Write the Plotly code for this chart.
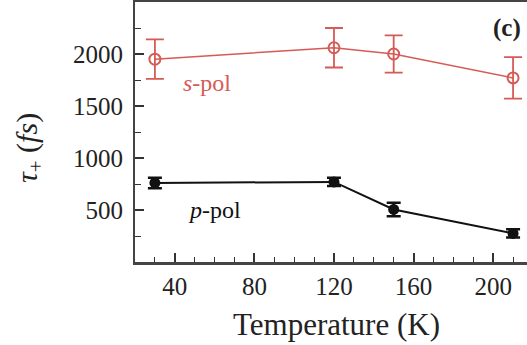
import plotly.graph_objects as go

# Temperature series (K)
temps = [30, 120, 150, 210]

# s-polarised decay time tau_+ (fs) and its error
s_tau = [1950, 2060, 2000, 1770]
s_err = [190, 190, 180, 200]

# p-polarised decay time tau_+ (fs) and its error
p_tau = [760, 770, 505, 275]
p_err = [50, 40, 65, 40]

x_ticks = [40, 80, 120, 160, 200]
y_ticks = [500, 1000, 1500, 2000]

RED = "#d65a55"
FONT = "Liberation Serif, Times New Roman, serif"

fig = go.Figure()

fig.add_trace(go.Scatter(
    x=temps, y=s_tau, mode="lines+markers",
    line=dict(color=RED, width=1.5),
    marker=dict(symbol="circle-open", size=11, color=RED, line=dict(width=2)),
    error_y=dict(type="data", array=s_err, visible=True, color=RED, thickness=1.8, width=9),
    showlegend=False,
))

fig.add_trace(go.Scatter(
    x=temps, y=p_tau, mode="lines+markers",
    line=dict(color="#111111", width=2),
    marker=dict(symbol="circle", size=11, color="#111111"),
    error_y=dict(type="data", array=p_err, visible=True, color="#111111", thickness=2.5, width=7),
    showlegend=False,
))

fig.update_layout(
    width=527, height=345,
    margin=dict(l=135, r=0, t=2, b=83),
    paper_bgcolor="white", plot_bgcolor="white",
    font=dict(family=FONT, size=25, color="#222222"),
    xaxis=dict(
        range=[20, 217], tickvals=x_ticks, ticks="inside", ticklen=9, tickwidth=1.5,
        tickcolor="#333333", showgrid=False, zeroline=False,
        showline=True, linecolor="#444444", linewidth=2.5, mirror=True,
        minor=dict(dtick=10, tick0=0, ticks="inside", ticklen=5, tickwidth=1.2, tickcolor="#333333"),
    ),
    yaxis=dict(
        range=[0, 2500], tickvals=y_ticks, ticks="inside", ticklen=9, tickwidth=1.5,
        tickcolor="#333333", showgrid=False, zeroline=False,
        showline=True, linecolor="#444444", linewidth=2, ticklabelstandoff=5,
        minor=dict(dtick=250, tick0=0, ticks="inside", ticklen=6, tickwidth=1.2, tickcolor="#333333"),
    ),
    annotations=[
        dict(text="Temperature (K)", xref="paper", yref="paper", x=0.515, y=-0.242,
             xanchor="center", yanchor="middle", showarrow=False,
             font=dict(family=FONT, size=31, color="#222222")),
        dict(text="<i>τ</i><sub>+</sub> (<i>fs</i>)", xref="paper", yref="paper",
             x=-0.272, y=0.44, xanchor="center", yanchor="middle", textangle=-90,
             showarrow=False, font=dict(family=FONT, size=30, color="#222222")),
        dict(text="<b>(c)</b>", xref="paper", yref="paper", x=0.99, y=0.96,
             xanchor="right", yanchor="top", showarrow=False,
             font=dict(family=FONT, size=25, color="#222222")),
        dict(text="<i>s</i>-pol", x=56, y=1720, xanchor="center", yanchor="middle",
             showarrow=False, font=dict(family=FONT, size=24, color=RED)),
        dict(text="<i>p</i>-pol", x=60, y=500, xanchor="center", yanchor="middle",
             showarrow=False, font=dict(family=FONT, size=24, color="#111111")),
    ],
)

fig.write_html("out.html")
